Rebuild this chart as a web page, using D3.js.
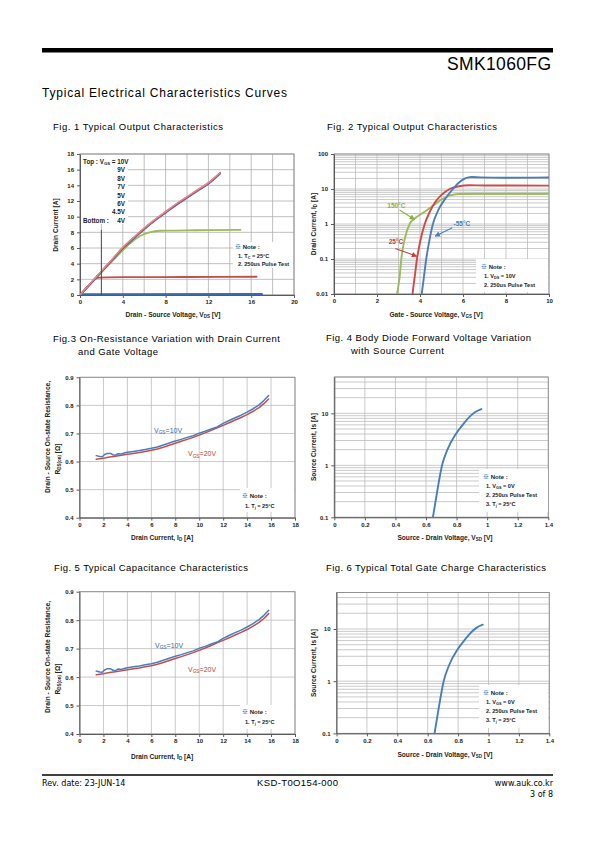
<!DOCTYPE html>
<html><head><meta charset="utf-8">
<script src="https://cdn.jsdelivr.net/npm/d3@7"></script>
<style>body{margin:0;background:#fff}svg{display:block}</style>
</head><body><svg id="page" width="595" height="842"></svg>
<script>
// ================= DATA =================
// Fig. 1 Output characteristics (VDS [V] -> ID [A])
const fig1VdsTop = [0,1,2,3,4,5,6,7,8,9,10,11,12,13.1];
const fig1Id10V = [0,1.45,2.95,4.45,5.95,7.2,8.4,9.5,10.5,11.5,12.4,13.3,14.2,15.5];
const fig1Id9V  = [0,1.5,3.0,4.5,6.0,7.25,8.45,9.55,10.55,11.55,12.45,13.35,14.25,15.55];
const fig1Id8V  = [0,1.5,3.0,4.5,6.05,7.3,8.5,9.6,10.6,11.6,12.5,13.4,14.3,15.6];
const fig1Id7V  = [0,1.55,3.05,4.55,6.1,7.35,8.55,9.65,10.65,11.65,12.55,13.45,14.35,15.65];
const fig1Vds5V = [0,1,2,3,4,5,5.7,6.5,7.5,8.5,10,12,15];
const fig1Id5V  = [0,1.45,2.9,4.3,5.7,6.95,7.6,8.0,8.2,8.22,8.25,8.28,8.32];
const fig1Vds45V = [0,1,1.5,1.8,2.5,5,10,16.5];
const fig1Id45V  = [0,1.45,2.1,2.22,2.25,2.28,2.3,2.33];
const fig1Vds4V = [0,17];
const fig1Id4V  = [0.08,0.12];
const fig1LegendNames = ["10V","9V","8V","7V","5V","6V","4.5V","4V"];
const fig1XTicks = [0,4,8,12,16,20];
const fig1YTicks = [0,2,4,6,8,10,12,14,16,18];

// Fig. 2 Transfer characteristics (VGS [V] -> ID [A]) at three temperatures
const fig2Vgs150 = [2.93,3.05,3.13,3.3,3.52,3.8,4.2,4.6,5.0,5.4,5.8,6.5,10];
const fig2Id150  = [0.01,0.03,0.1,0.4,1,1.5,2.2,3.3,5,6.6,7.2,7.3,7.3];
const fig2Vgs25  = [3.65,3.75,3.86,4.0,4.22,4.45,4.68,5.0,5.38,5.8,6.3,7,10];
const fig2Id25   = [0.01,0.03,0.1,0.3,1,2.2,4,6.8,10,12,12.8,12.6,12.5];
const fig2VgsM55 = [4.08,4.18,4.29,4.42,4.6,4.85,5.15,5.53,5.8,6.1,6.4,6.8,8,10];
const fig2IdM55  = [0.01,0.03,0.1,0.3,1,2.5,5,10,15,20,22,21.5,21,21.3];
const fig2Temps = ["150\u00B0C","25\u00B0C","-55\u00B0C"];
const fig2XTicks = [0,2,4,6,8,10];
const fig2YTicks = [0.01,0.1,1,10,100];

// Fig. 3 / Fig. 5 On-resistance vs drain current (ID [A] -> RDS(on) [Ω])
const fig3Id10V = [1.4,1.7,1.9,2.1,2.3,2.6,2.8,3.0,3.2,3.5,3.8,4,4.5,5,5.5,6,6.5,7,7.5,8,8.5,9,9.5,10,10.5,11,11.5,12,12.5,13,13.5,14,14.5,15,15.4,15.8];
const fig3R10V  = [0.621,0.618,0.617,0.625,0.629,0.629,0.624,0.622,0.628,0.627,0.631,0.633,0.636,0.639,0.643,0.647,0.652,0.659,0.666,0.673,0.679,0.686,0.692,0.701,0.708,0.716,0.723,0.736,0.746,0.756,0.765,0.776,0.788,0.802,0.817,0.835];
const fig3Id20V = [1.4,2,2.5,3,3.5,4,4.5,5,5.5,6,6.5,7,7.5,8,8.5,9,9.5,10,10.5,11,11.5,12,12.5,13,13.5,14,14.5,15,15.4,15.8];
const fig3R20V  = [0.608,0.612,0.616,0.619,0.622,0.626,0.629,0.632,0.636,0.640,0.645,0.651,0.658,0.665,0.672,0.679,0.686,0.694,0.702,0.711,0.720,0.729,0.738,0.748,0.757,0.767,0.779,0.792,0.806,0.823];
const fig3XTicks = [0,2,4,6,8,10,12,14,16,18];
const fig3YTicks = [0.4,0.5,0.6,0.7,0.8,0.9];

// Fig. 4 / Fig. 6 Body diode (VSD [V] -> IS [A])
const fig4Vsd = [0.645,0.672,0.705,0.74,0.795,0.84,0.875,0.92,0.962];
const fig4Is  = [0.1,0.3,1,2,4,6,8,10.5,12.1];
const fig4XTicks = [0,0.2,0.4,0.6,0.8,1,1.2,1.4];
const fig4YTicks = [0.1,1,10];

// ================= DRAWING =================
const svg = d3.select('#page');
const FONT = "'Liberation Sans', Arial, 'Noto Sans CJK KR', sans-serif";
const C = {blue:'#4a7ebb', red:'#c0504d', green:'#9bbb59', purple:'#7f62a3', pink:'#dc8f8d'};
let clipId = 0;

function rich(t, str, fs){
  const parts = str.split(/(_\{[^}]*\}|\u203B)/);
  let sub = false;
  parts.forEach(p=>{
    if(!p) return;
    if(p.startsWith('_{')){
      t.append('tspan').attr('font-size', fs*0.68).attr('dy', fs*0.22).text(p.slice(2,-1));
      sub = true;
    } else {
      const s = t.append('tspan').text(p);
      if(p === '\u203B') s.attr('font-family',"'Noto Sans CJK KR', 'Noto Sans CJK SC', sans-serif");
      if(sub){ s.attr('dy', -fs*0.22); sub = false; }
    }
  });
  return t;
}
function txt(x,y,str,o={}){
  const fs = o.size||7;
  const t = svg.append('text').attr('x',x).attr('y',y)
    .attr('font-family',o.family||FONT).attr('font-size',fs)
    .attr('font-weight',o.weight||'normal').attr('fill',o.fill||'#000')
    .attr('text-anchor',o.anchor||'start');
  if(o.rotate){ t.attr('transform',`rotate(-90,${x},${y})`); }
  if(o.len){ t.attr('textLength',o.len).attr('lengthAdjust','spacing'); }
  return rich(t,str,fs);
}

function chart(o){
  const g = svg.append('g');
  const x = (o.xLog?d3.scaleLog():d3.scaleLinear()).domain(o.xDomain).range([o.left,o.right]);
  const y = (o.yLog?d3.scaleLog():d3.scaleLinear()).domain(o.yDomain).range([o.bottom,o.top]);
  const gridC = o.gridColor||'#bdbdbd';
  g.append('g').selectAll('line').data(o.xGrid).join('line')
    .attr('x1',d=>x(d)).attr('x2',d=>x(d)).attr('y1',o.top).attr('y2',o.bottom)
    .attr('stroke',gridC).attr('stroke-width',0.8);
  g.append('g').selectAll('line').data(o.yGrid).join('line')
    .attr('y1',d=>y(d)).attr('y2',d=>y(d)).attr('x1',o.left).attr('x2',o.right)
    .attr('stroke',gridC).attr('stroke-width',0.8);
  g.append('rect').attr('x',o.left).attr('y',o.top).attr('width',o.right-o.left).attr('height',o.bottom-o.top)
    .attr('fill','none').attr('stroke','#8c8c8c').attr('stroke-width',0.9);
  const styleAxis = sel=>{
    sel.attr('font-size',null).attr('font-family',null);
    sel.select('.domain').attr('stroke','#5a5a5a').attr('stroke-width',1);
    sel.selectAll('.tick line').attr('stroke','#5a5a5a');
    sel.selectAll('.tick text').attr('font-family',FONT).attr('font-size',6).attr('font-weight','bold').attr('fill','#222');
  };
  g.append('g').attr('transform',`translate(0,${o.bottom})`)
    .call(d3.axisBottom(x).tickValues(o.xTicks).tickSize(3).tickSizeOuter(0).tickPadding(2).tickFormat(o.xFmt||(d=>d)))
    .call(styleAxis);
  g.append('g').attr('transform',`translate(${o.left},0)`)
    .call(d3.axisLeft(y).tickValues(o.yTicks).tickSize(3).tickSizeOuter(0).tickPadding(3).tickFormat(o.yFmt||(d=>d)))
    .call(styleAxis);
  const cid = 'clip'+(clipId++);
  svg.append('clipPath').attr('id',cid).append('rect')
    .attr('x',o.left).attr('y',o.top-2).attr('width',o.right-o.left).attr('height',o.bottom-o.top+2);
  const plot = svg.append('g').attr('clip-path',`url(#${cid})`);
  return {x,y,g,plot,o};
}
function series(ch, xs, ys, color, w, curve){
  const pts = xs.map((v,i)=>[v,ys[i]]);
  ch.plot.append('path').datum(pts)
    .attr('d', d3.line().x(d=>ch.x(d[0])).y(d=>ch.y(d[1])).curve(curve||d3.curveMonotoneX))
    .attr('fill','none').attr('stroke',color).attr('stroke-width',w||1.8)
    .attr('stroke-linejoin','round').attr('stroke-linecap','round');
}
function whiteBox(x,y,w,h){
  svg.append('rect').attr('x',x).attr('y',y).attr('width',w).attr('height',h).attr('fill','#fff');
}
function note(x,y,lines,step){
  txt(x,y,"\u203B Note :",{size:6,weight:'bold',fill:'#222'});
  lines.forEach((l,i)=>txt(x+3,y+step*(i+1),l,{size:5.6,weight:'bold',fill:'#222'}));
}

// ---------- Header ----------
svg.append('rect').attr('x',42).attr('y',48).attr('width',511).attr('height',4.5).attr('fill','#000');
txt(551,70,"SMK1060FG",{size:17.5,anchor:'end',len:104});
txt(42,97,"Typical Electrical Characteristics Curves",{size:12,len:245});

// ---------- Titles ----------
txt(53,130,"Fig. 1 Typical Output Characteristics",{size:9.5,len:170});
txt(327,130,"Fig. 2 Typical Output Characteristics",{size:9.5,len:170});
txt(53,342,"Fig.3 On-Resistance Variation with Drain Current",{size:9.5,len:227});
txt(78,355,"and Gate Voltage",{size:9.5,len:80});
txt(326,341,"Fig. 4 Body Diode Forward Voltage Variation",{size:9.5,len:205});
txt(351,354,"with Source Current",{size:9.5,len:93});
txt(54,571,"Fig. 5 Typical Capacitance Characteristics",{size:9.5,len:194});
txt(326,571,"Fig. 6 Typical Total Gate Charge Characteristics",{size:9.5,len:220});

// ---------- Fig 1 ----------
const f1 = chart({left:80,right:294,top:154,bottom:295,xDomain:[0,20],yDomain:[0,18],
  xGrid:d3.range(0,21,2),yGrid:d3.range(0,19,2),xTicks:fig1XTicks,yTicks:fig1YTicks,gridColor:'#b0b0b0'});
series(f1,fig1Vds4V,fig1Id4V,'#3d6aa8',2.2,d3.curveLinear);
series(f1,fig1Vds45V,fig1Id45V,C.red,1.8);
series(f1,fig1Vds5V,fig1Id5V,C.green,1.8);
series(f1,fig1VdsTop,fig1Id10V,'#3f5f9f',1.8);
series(f1,fig1VdsTop,fig1Id9V,C.purple,1.6);
series(f1,fig1VdsTop,fig1Id8V,C.red,1.6);
series(f1,fig1VdsTop,fig1Id7V,C.pink,1.4);
// vertical marker line at VDS = 2V
f1.plot.append('line').attr('x1',f1.x(2)).attr('x2',f1.x(2)).attr('y1',f1.y(0)).attr('y2',f1.y(8.3))
  .attr('stroke','#444').attr('stroke-width',0.9);
whiteBox(81,155,47,69);
txt(83,164,"Top : V_{GS} = 10V",{size:6.3,weight:'bold',fill:'#222'});
fig1LegendNames.slice(1,7).forEach((n,i)=>txt(125,172.4+i*8.4,n,{size:6.3,weight:'bold',fill:'#222',anchor:'end'}));
txt(83,223,"Bottom :",{size:6.3,weight:'bold',fill:'#222'});
txt(125,223,fig1LegendNames[7],{size:6.3,weight:'bold',fill:'#222',anchor:'end'});
whiteBox(233,242,60,26);
note(235,249,["1. T_{C} = 25\u00B0C","2. 250us Pulse Test"],8.6);
txt(58,225,"Drain Current [A]",{size:6.6,weight:'bold',rotate:true,anchor:'middle',fill:'#222'});
txt(173,317,"Drain - Source Voltage, V_{DS} [V]",{size:6.6,weight:'bold',anchor:'middle',fill:'#222'});

// ---------- Fig 2 ----------
const logGrid = (a,b)=>{const r=[];for(let e=a;e<b;e++){for(let k=1;k<10;k++)r.push(k*Math.pow(10,e));}r.push(Math.pow(10,b));return r;};
const f2 = chart({left:334,right:549,top:154,bottom:294,xDomain:[0,10],yDomain:[0.01,100],yLog:true,
  xGrid:d3.range(0,11,1),yGrid:logGrid(-2,2),xTicks:fig2XTicks,yTicks:fig2YTicks,
  yFmt:d=>String(+d.toPrecision(3))});
series(f2,fig2Vgs150,fig2Id150,C.green,1.9);
series(f2,fig2Vgs25,fig2Id25,'#d04848',1.9);
series(f2,fig2VgsM55,fig2IdM55,C.blue,1.9);
const defs = svg.append('defs');
function arrow(ch,x1,y1,x2,y2,color,id){
  defs.append('marker').attr('id',id).attr('viewBox','0 0 10 10').attr('refX',9).attr('refY',5)
    .attr('markerWidth',5).attr('markerHeight',5).attr('orient','auto')
    .append('path').attr('d','M0,0L10,5L0,10z').attr('fill',color);
  svg.append('line').attr('x1',ch.x(x1)).attr('y1',ch.y(y1)).attr('x2',ch.x(x2)).attr('y2',ch.y(y2))
    .attr('stroke',color).attr('stroke-width',1.1).attr('marker-end',`url(#${id})`);
}
txt(f2.x(2.9),f2.y(2.9),fig2Temps[0],{size:6.5,weight:'bold',fill:'#8cae4a',anchor:'middle'});
arrow(f2,3.05,2.5,3.75,1.35,'#8cae4a','ar150');
txt(f2.x(2.88),f2.y(0.26),fig2Temps[1],{size:6.5,weight:'bold',fill:'#c84040',anchor:'middle'});
arrow(f2,2.85,0.2,3.85,0.12,'#c84040','ar25');
txt(f2.x(5.95),f2.y(0.9),fig2Temps[2],{size:6.5,weight:'bold',fill:C.blue,anchor:'middle'});
arrow(f2,5.5,0.78,4.7,0.45,C.blue,'arm55');
whiteBox(476,259,72,33);
note(481,269,["1. V_{DS} = 10V","2. 250us Pulse Test"],9);
txt(316,224,"Drain Current, I_{D} [A]",{size:6.6,weight:'bold',rotate:true,anchor:'middle',fill:'#222'});
txt(436,317,"Gate - Source Voltage, V_{GS} [V]",{size:6.6,weight:'bold',anchor:'middle',fill:'#222'});

// ---------- Fig 3 & Fig 5 ----------
function rdsChart(top,bottom,lab10,lab20,noteY,boxY,ylabY,xlabY){
  const ch = chart({left:79.5,right:295,top:top,bottom:bottom,xDomain:[0,18],yDomain:[0.4,0.9],
    xGrid:d3.range(0,19,2),yGrid:d3.range(0.4,0.95,0.1),xTicks:fig3XTicks,yTicks:fig3YTicks,
    yFmt:d3.format('.1f')});
  series(ch,fig3Id20V,fig3R20V,C.red,1.5,d3.curveLinear);
  series(ch,fig3Id10V,fig3R10V,C.blue,1.5,d3.curveLinear);
  txt(lab10[0],lab10[1],"V_{GS}=10V",{size:7,fill:'#3c66a8'});
  txt(lab20[0],lab20[1],"V_{GS}=20V",{size:7,fill:'#b84444'});
  whiteBox(240,boxY,54,24);
  note(242,noteY,["1. T_{j} = 25\u00B0C"],10);
  txt(49.5,ylabY,"Drain - Source On-state Resistance,",{size:6.6,weight:'bold',rotate:true,anchor:'middle',fill:'#222'});
  txt(59.5,ylabY+22,"R_{DS(on)} [\u03A9]",{size:6.6,weight:'bold',rotate:true,anchor:'middle',fill:'#222'});
  txt(162,xlabY,"Drain Current, I_{D} [A]",{size:6.6,weight:'bold',anchor:'middle',fill:'#222'});
  return ch;
}
rdsChart(377.3,517.7,[154,432.5],[188,456],498,488,437,540);
rdsChart(591.7,734,[155,647.5],[188,671.5],714,705,657,759);

// ---------- Fig 4 & Fig 6 ----------
function diodeChart(left,right,top,bottom,boxY,noteY,ylabY,xlabY){
  const ch = chart({left:left,right:right,top:top,bottom:bottom,xDomain:[0,1.4],yDomain:[0.1,50],yLog:true,
    xGrid:d3.range(0,1.41,0.2),yGrid:logGrid(-1,1).concat([20,30,40,50]),xTicks:fig4XTicks,yTicks:fig4YTicks,
    xFmt:d=>String(+d.toFixed(1)),yFmt:d=>String(+d.toPrecision(2))});
  series(ch,fig4Vsd,fig4Is,C.blue,1.9);
  whiteBox(479,boxY,69,43);
  note(483,noteY,["1. V_{GS} = 0V","2. 250us Pulse Test","3. T_{j} = 25\u00B0C"],9);
  txt(316,ylabY,"Source Current, Is [A]",{size:6.6,weight:'bold',rotate:true,anchor:'middle',fill:'#222'});
  txt(445,xlabY,"Source - Drain Voltage, V_{SD} [V]",{size:6.6,weight:'bold',anchor:'middle',fill:'#222'});
  return ch;
}
diodeChart(334.3,548.3,377,517.3,469,479,447,540);
diodeChart(336.5,549.3,592.5,733.4,685,695,663,757);

// ---------- Footer ----------
svg.append('line').attr('x1',42).attr('x2',553).attr('y1',775).attr('y2',775).attr('stroke','#000').attr('stroke-width',1.3);
txt(42,786,"Rev. date: 23-JUN-14",{size:8,family:"'DejaVu Sans', sans-serif"});
txt(257,786,"KSD-T0O154-000",{size:9.5,len:81});
txt(553,786,"www.auk.co.kr",{size:8,family:"'DejaVu Sans', sans-serif",anchor:'end'});
txt(553,797,"3 of 8",{size:8,family:"'DejaVu Sans', sans-serif",anchor:'end'});
</script></body></html>
